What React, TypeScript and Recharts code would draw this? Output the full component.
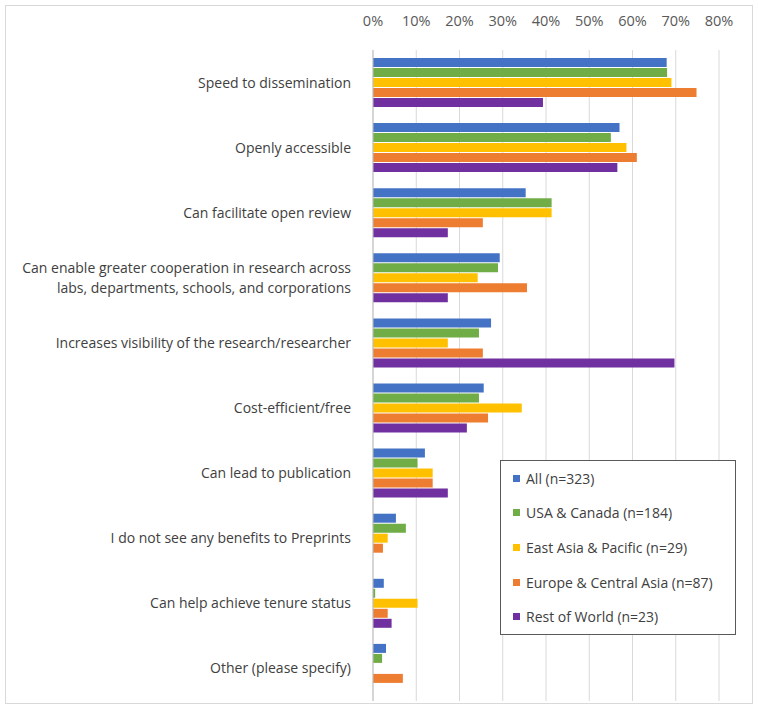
import { Bar, BarChart, CartesianGrid, XAxis, YAxis } from "recharts"

const CATEGORIES = [
  "Speed to dissemination",
  "Openly accessible",
  "Can facilitate open review",
  "Can enable greater cooperation in research across\nlabs, departments, schools, and corporations",
  "Increases visibility of the research/researcher",
  "Cost-efficient/free",
  "Can lead to publication",
  "I do not see any benefits to Preprints",
  "Can help achieve tenure status",
  "Other (please specify)",
]

const ALL = [67.9, 57, 35.3, 29.3, 27.3, 25.6, 12, 5.3, 2.5, 3]
const USA = [68, 55, 41.3, 28.9, 24.5, 24.5, 10.3, 7.6, 0.5, 2.1]
const EAST_ASIA = [69, 58.6, 41.3, 24.2, 17.3, 34.4, 13.8, 3.4, 10.3, 0]
const EUROPE = [74.8, 61, 25.4, 35.6, 25.4, 26.6, 13.8, 2.3, 3.4, 6.9]
const REST = [39.3, 56.5, 17.3, 17.3, 69.7, 21.7, 17.3, 0, 4.3, 0]

const SERIES = [
  { key: "all", name: "All (n=323)", color: "#4472C4", values: ALL },
  { key: "usa", name: "USA & Canada (n=184)", color: "#70AD47", values: USA },
  { key: "eap", name: "East Asia & Pacific (n=29)", color: "#FFC000", values: EAST_ASIA },
  { key: "eca", name: "Europe & Central Asia (n=87)", color: "#ED7D31", values: EUROPE },
  { key: "row", name: "Rest of World (n=23)", color: "#7030A0", values: REST },
]

const X_TICKS = [0, 10, 20, 30, 40, 50, 60, 70, 80]

const rows = CATEGORIES.map((c, i) => {
  const r: Record<string, number | string> = { category: c }
  SERIES.forEach((s) => (r[s.key] = s.values[i]))
  return r
})

const FONT = "'Open Sans', 'Liberation Sans', sans-serif"

function CategoryTick({ x, y, payload }: any) {
  const lines = String(payload.value).split("\n")
  const start = -((lines.length - 1) * 20) / 2
  return (
    <text x={x} y={y} textAnchor="end" fill="#404040" fontSize={14} fontFamily={FONT}>
      {lines.map((l, i) => (
        <tspan key={i} x={x} dy={i === 0 ? start + 5 : 20}>
          {l}
        </tspan>
      ))}
    </text>
  )
}

function LegendBox() {
  return (
    <div
      style={{
        position: "absolute",
        left: 500,
        top: 460,
        width: 236,
        height: 175,
        border: "1px solid #595959",
        padding: "0 0 0 12px",
        background: "#fff",
        fontFamily: FONT,
        fontSize: 14,
        color: "#404040",
        display: "flex",
        flexDirection: "column",
        justifyContent: "space-around",
        boxSizing: "border-box",
      }}
    >
      {SERIES.map((s) => (
        <div key={s.key} style={{ display: "flex", alignItems: "center" }}>
          <span style={{ width: 7, height: 7, background: s.color, marginRight: 6 }} />
          {s.name}
        </div>
      ))}
    </div>
  )
}

export default function App() {
  return (
    <div style={{ position: "absolute", left: 0, top: 0, width: 759, height: 709, background: "#fff" }}>
      <div
        style={{
          position: "absolute",
          left: 5,
          top: 5,
          width: 746,
          height: 697,
          border: "1px solid #d9d9d9",
        }}
      />
      <div style={{ position: "absolute", left: 0, top: 0 }}>
        <BarChart
          width={759}
          height={709}
          data={rows}
          layout="vertical"
          margin={{ top: 0, right: 40, bottom: 8, left: 0 }}
          barGap={1}
          barSize={9}
        >
          <CartesianGrid horizontal={false} vertical stroke="#d9d9d9" />
          <XAxis
            type="number"
            orientation="top"
            domain={[0, 80]}
            ticks={X_TICKS}
            tickFormatter={(v) => `${v}%`}
            axisLine={false}
            tickLine={false}
            height={50}
            tickMargin={18}
            tick={{ fill: "#595959", fontSize: 14.5, fontFamily: FONT }}
            interval={0}
          />
          <YAxis
            type="category"
            dataKey="category"
            width={373}
            axisLine={{ stroke: "#bfbfbf" }}
            tickLine={false}
            tick={<CategoryTick />}
            tickMargin={16}
            interval={0}
          />
          {SERIES.map((s) => (
            <Bar key={s.key} dataKey={s.key} name={s.name} fill={s.color} isAnimationActive={false} />
          ))}
        </BarChart>
      </div>
      <LegendBox />
    </div>
  )
}
